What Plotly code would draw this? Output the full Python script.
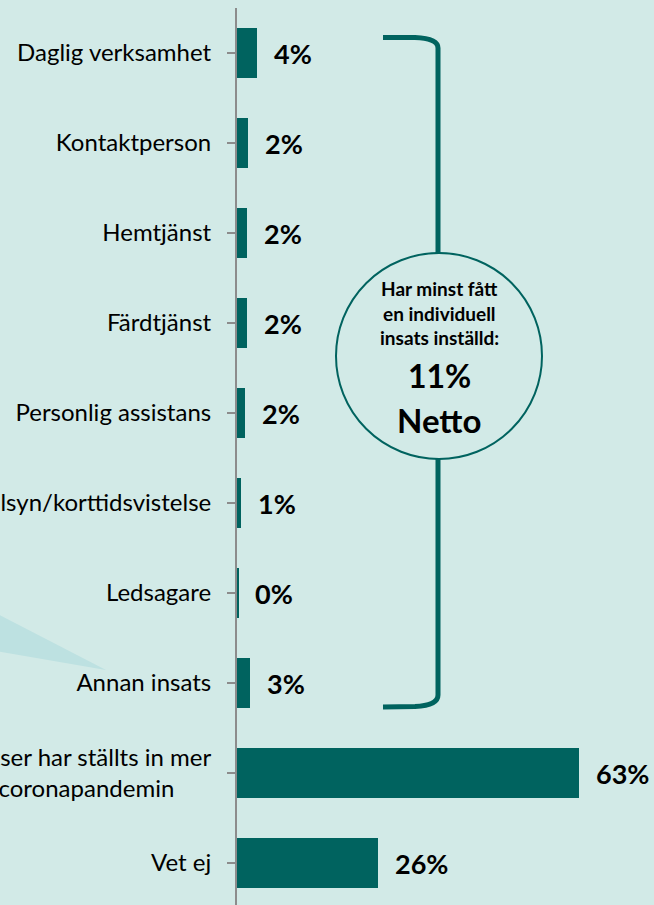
import plotly.graph_objects as go

NB = "\u00a0"
categories = [
    "Daglig verksamhet",
    "Kontaktperson",
    "Hemtjänst",
    "Färdtjänst",
    "Personlig assistans",
    "Korttidstillsyn/korttidsvistelse",
    "Ledsagare",
    "Annan insats",
    "Inga insatser har ställts in mer<br>än vanligt under coronapandemin" + NB * 6,
    "Vet ej",
]
values = [3.7, 2.0, 1.8, 1.8, 1.5, 0.8, 0.2, 2.4, 63.0, 26.0]
value_labels = ["4%", "2%", "2%", "2%", "2%", "1%", "0%", "3%", "63%", "26%"]
circle_lines = ["Har minst fått", "en individuell", "insats inställd:"]
netto_value = "11%"
netto_label = "Netto"

W, H = 654, 905
BG = "#d2eae7"
TEAL = "#00635f"
AXIS = "#8c8c8c"
FONT = "Lato"

def px(x):
    return x / W

def py(y):
    return 1 - y / H

fig = go.Figure()
fig.add_trace(go.Bar(
    x=values, y=list(range(len(categories))), orientation="h",
    marker=dict(color=TEAL, line=dict(width=0)), width=0.55,
    hoverinfo="skip",
))

annotations = []
for i, (v, t) in enumerate(zip(values, value_labels)):
    annotations.append(dict(
        x=v, y=i, xref="x", yref="y", text="<b>%s</b>" % t, showarrow=False,
        xanchor="left", yanchor="middle", xshift=15,
        font=dict(family=FONT, size=27, color="black"),
    ))

# circle texts
cx = 439
for txt, yy in zip(circle_lines, [288, 313, 337]):
    annotations.append(dict(
        x=px(cx), y=py(yy), xref="paper", yref="paper", text="<b>%s</b>" % txt,
        showarrow=False, xanchor="center", yanchor="middle",
        font=dict(family=FONT, size=19, color="black"),
    ))
annotations.append(dict(
    x=px(cx), y=py(376), xref="paper", yref="paper", text="<b>%s</b>" % netto_value,
    showarrow=False, xanchor="center", yanchor="middle",
    font=dict(family=FONT, size=32, color="black"),
))
annotations.append(dict(
    x=px(cx), y=py(420), xref="paper", yref="paper", text="<b>%s</b>" % netto_label,
    showarrow=False, xanchor="center", yanchor="middle",
    font=dict(family=FONT, size=33, color="black"),
))

def path(points_cmds):
    out = []
    for cmd in points_cmds:
        c = cmd[0]
        nums = cmd[1:]
        coords = []
        for j in range(0, len(nums), 2):
            coords.append("%.5f,%.5f" % (px(nums[j]), py(nums[j + 1])))
        out.append(c + " " + " ".join(coords))
    return " ".join(out)

shapes = []
# callout pointer
shapes.append(dict(
    type="path", xref="paper", yref="paper", layer="below",
    path=path([("M", -10, 610), ("L", 106, 670), ("L", -10, 650)]) + " Z",
    fillcolor="#bde1e1", line=dict(width=0),
))
# bracket top
shapes.append(dict(
    type="path", xref="paper", yref="paper",
    path=path([("M", 383, 37.5), ("L", 415, 37.5), ("Q", 438, 38.5, 438, 48), ("L", 438, 253)]),
    line=dict(color=TEAL, width=5),
))
# bracket bottom
shapes.append(dict(
    type="path", xref="paper", yref="paper",
    path=path([("M", 438, 459), ("L", 438, 695), ("Q", 438, 705.5, 415, 706.5), ("L", 383, 707)]),
    line=dict(color=TEAL, width=5),
))
# circle
shapes.append(dict(
    type="circle", xref="paper", yref="paper",
    x0=px(336), x1=px(542), y0=py(459), y1=py(253),
    line=dict(color=TEAL, width=2),
))

fig.update_layout(
    width=W, height=H,
    margin=dict(l=0, r=0, t=0, b=0, pad=0),
    paper_bgcolor=BG, plot_bgcolor=BG,
    showlegend=False,
    bargap=0,
    hovermode=False,
    annotations=annotations,
    shapes=shapes,
    xaxis=dict(
        domain=[px(237), 1], range=[0, (W - 237) / 5.424],
        visible=False, fixedrange=True, automargin=False,
    ),
    yaxis=dict(
        domain=[0, (H - 8) / H], range=[(H - 8) / 90 - 0.5, -0.5],
        autorange=False, automargin=False,
        tickmode="array", tickvals=list(range(len(categories))), ticktext=categories,
        showline=True, linecolor=AXIS, linewidth=2,
        ticks="outside", ticklen=8, tickcolor=AXIS, tickwidth=2,
        showgrid=False, zeroline=False,
        tickfont=dict(family=FONT, size=24, color="black"),
        ticklabelstandoff=11,
        fixedrange=True,
    ),
)

fig.write_html(
    "out.html",
    config={"displayModeBar": False},
    post_script="document.body.style.margin='0';document.body.style.overflow='hidden';",
)
